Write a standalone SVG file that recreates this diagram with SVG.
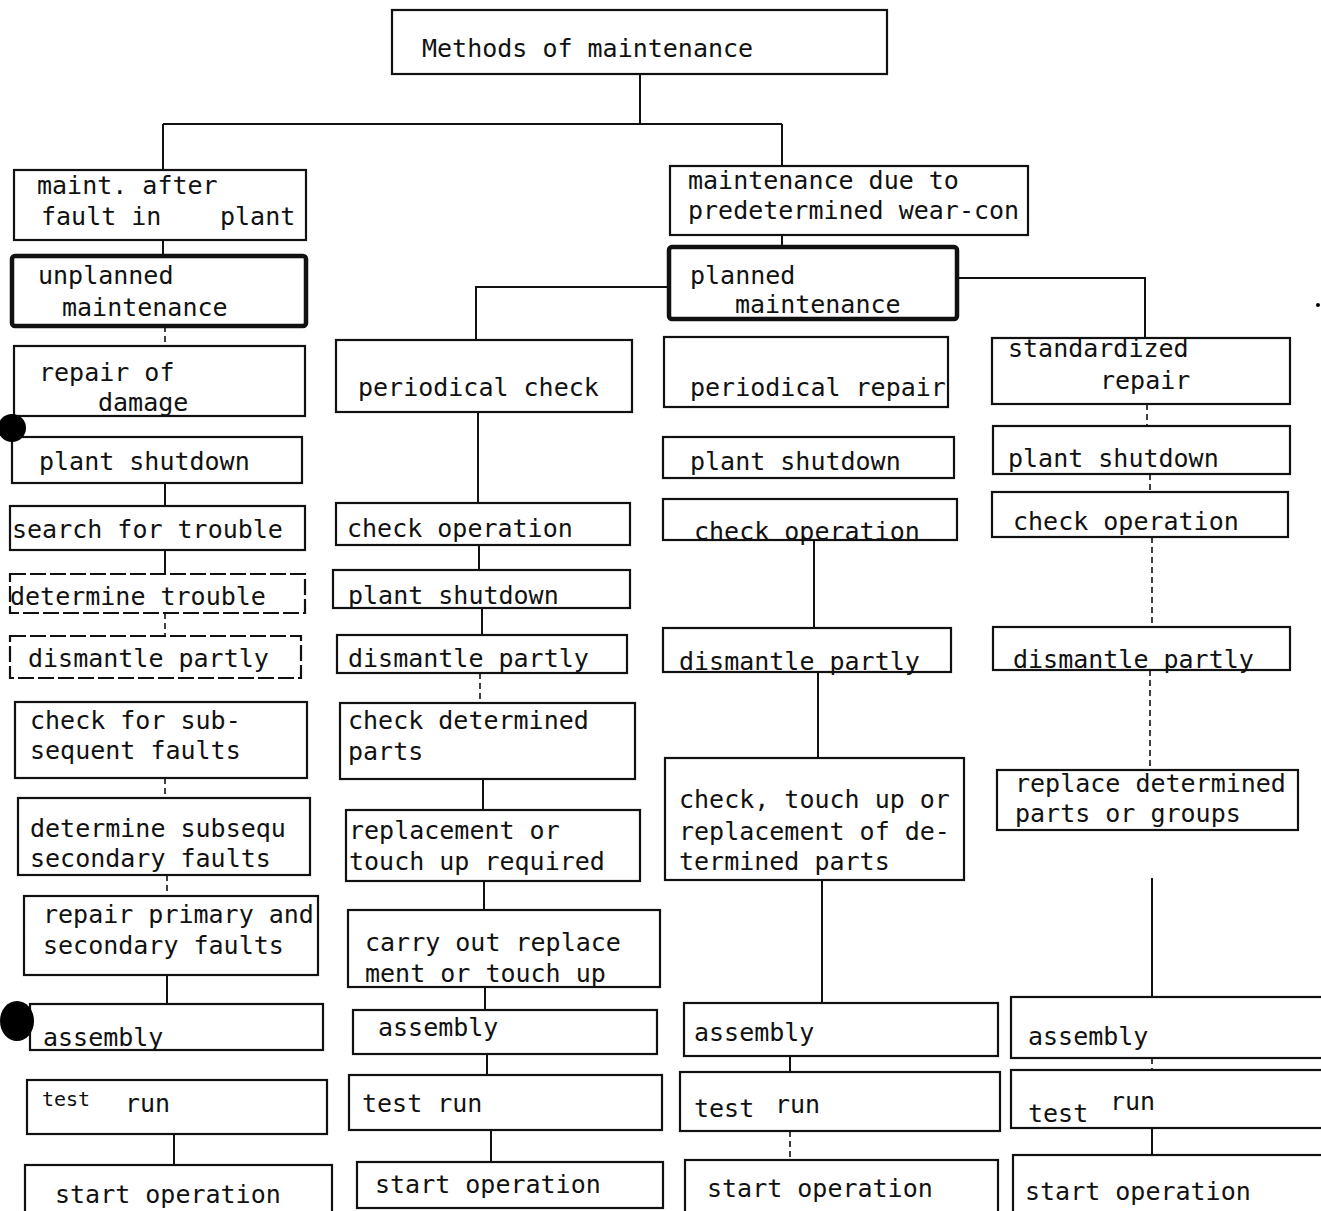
<svg xmlns="http://www.w3.org/2000/svg" width="1321" height="1211" viewBox="0 0 1321 1211">
<style>
.b{fill:#fff;stroke:#111;stroke-width:2.2}
.bd{fill:#fff;stroke:#111;stroke-width:2.2;stroke-dasharray:16 4}
.k{fill:#fff;stroke:#111;stroke-width:4.5}
.c{fill:none;stroke:#111;stroke-width:2}
.cd{fill:none;stroke:#111;stroke-width:1.6;stroke-dasharray:6 4}
text{font-family:"DejaVu Sans Mono","Liberation Mono",monospace;font-size:25px;fill:#111}
</style>
<rect width="1321" height="1211" fill="#fff"/>
<g id="connectors">
<path class="c" d="M640 74V124M163 124H782M163 124V170M782 124V166"/>
<path class="c" d="M163 240V255"/>
<path class="cd" d="M165 326V346"/>
<path class="c" d="M165 483V506M165 550V574"/>
<path class="cd" d="M165 613V636"/>
<path class="cd" d="M165 778V798M167 875V896"/>
<path class="c" d="M167 975V1005M174 1134V1165"/>
<path class="c" d="M668 287H476V340M478 412V503M479 545V570M482 608V635"/>
<path class="cd" d="M480 673V703"/>
<path class="c" d="M483 779V810M484 881V912M485 987V1010M487 1054V1075M491 1130V1162"/>
<path class="c" d="M782 235V247M957 278H1145V338"/>
<path class="c" d="M814 540V628M818 672V758M822 880V1003M790 1056V1072"/>
<path class="cd" d="M790 1131V1160"/>
<path class="cd" d="M1147 404V426M1150 474V492M1152 537V627M1150 670V770"/>
<path class="c" d="M1152 878V997M1152 1128V1155"/>
<path class="cd" d="M1152 1058V1070"/>
</g>
<g id="n_methods"><rect class="b" x="392" y="10" width="495" height="64"/><text x="422" y="57">Methods of maintenance</text></g>
<g id="n_fault"><rect class="b" x="14" y="170" width="292" height="70"/><text x="37" y="194">maint. after</text><text x="41" y="225">fault in</text><text x="220" y="225">plant</text></g>
<g id="n_unplanned"><rect class="k" x="12" y="256" width="294" height="70" rx="3"/><text x="38" y="284">unplanned</text><text x="62" y="316">maintenance</text></g>
<g id="n_repair_damage"><rect class="b" x="14" y="346" width="291" height="70"/><text x="39" y="381">repair of</text><text x="98" y="411">damage</text></g>
<g id="n_c1_shutdown"><rect class="b" x="12" y="437" width="290" height="46"/><text x="39" y="470">plant shutdown</text></g>
<g id="n_search"><rect class="b" x="10" y="506" width="295" height="44"/><text x="12" y="538">search for trouble</text></g>
<g id="n_determine"><rect class="bd" x="10" y="574" width="295" height="39"/><text x="10" y="605">determine trouble</text></g>
<g id="n_c1_dismantle"><rect class="bd" x="10" y="636" width="291" height="42"/><text x="28" y="667">dismantle partly</text></g>
<g id="n_check_sub"><rect class="b" x="15" y="702" width="292" height="76"/><text x="30" y="729">check for sub-</text><text x="30" y="759">sequent faults</text></g>
<g id="n_det_sec"><rect class="b" x="18" y="798" width="292" height="77"/><text x="30" y="837">determine  subsequ</text><text x="30" y="867">secondary faults</text></g>
<g id="n_repair_prim"><rect class="b" x="24" y="896" width="294" height="79"/><text x="43" y="923">repair primary and</text><text x="43" y="954">secondary faults</text></g>
<g id="n_c1_assembly"><rect class="b" x="30" y="1004" width="293" height="46"/><text x="43" y="1046">assembly</text></g>
<g id="n_c1_test"><rect class="b" x="27" y="1080" width="300" height="54"/><text x="42" y="1106" style="font-size:20px">test</text><text x="125" y="1112">run</text></g>
<g id="n_c1_start"><rect class="b" x="25" y="1165" width="307" height="52"/><text x="55" y="1203">start operation</text></g>
<g id="n_due"><rect class="b" x="670" y="166" width="358" height="69"/><text x="688" y="189">maintenance due to</text><text x="688" y="219">predetermined wear-con</text></g>
<g id="n_planned"><rect class="k" x="669" y="247" width="288" height="72" rx="3"/><text x="690" y="284">planned</text><text x="735" y="313">maintenance</text></g>
<g id="n_per_check"><rect class="b" x="336" y="340" width="296" height="72"/><text x="358" y="396">periodical check</text></g>
<g id="n_c2_checkop"><rect class="b" x="336" y="503" width="294" height="42"/><text x="347" y="537">check operation</text></g>
<g id="n_c2_shutdown"><rect class="b" x="333" y="570" width="297" height="38"/><text x="348" y="604">plant shutdown</text></g>
<g id="n_c2_dismantle"><rect class="b" x="337" y="635" width="290" height="38"/><text x="348" y="667">dismantle partly</text></g>
<g id="n_check_det"><rect class="b" x="340" y="703" width="295" height="76"/><text x="348" y="729">check determined</text><text x="348" y="760">parts</text></g>
<g id="n_repl_req"><rect class="b" x="346" y="810" width="294" height="71"/><text x="349" y="839">replacement or</text><text x="349" y="870">touch up required</text></g>
<g id="n_carry"><rect class="b" x="348" y="910" width="312" height="77"/><text x="365" y="951">carry out replace</text><text x="365" y="982">ment or touch up</text></g>
<g id="n_c2_assembly"><rect class="b" x="353" y="1010" width="304" height="44"/><text x="378" y="1036">assembly</text></g>
<g id="n_c2_test"><rect class="b" x="349" y="1075" width="313" height="55"/><text x="362" y="1112">test run</text></g>
<g id="n_c2_start"><rect class="b" x="357" y="1162" width="306" height="46"/><text x="375" y="1193">start operation</text></g>
<g id="n_per_repair"><rect class="b" x="664" y="337" width="284" height="70"/><text x="690" y="396">periodical repair</text></g>
<g id="n_c3_shutdown"><rect class="b" x="663" y="437" width="291" height="41"/><text x="690" y="470">plant shutdown</text></g>
<g id="n_c3_checkop"><rect class="b" x="663" y="499" width="294" height="41"/><text x="694" y="540">check operation</text></g>
<g id="n_c3_dismantle"><rect class="b" x="663" y="628" width="288" height="44"/><text x="679" y="670">dismantle partly</text></g>
<g id="n_check_touch"><rect class="b" x="665" y="758" width="299" height="122"/><text x="679" y="808">check, touch up or</text><text x="679" y="840">replacement of de-</text><text x="679" y="870">termined parts</text></g>
<g id="n_c3_assembly"><rect class="b" x="684" y="1003" width="314" height="53"/><text x="694" y="1041">assembly</text></g>
<g id="n_c3_test"><rect class="b" x="680" y="1072" width="320" height="59"/><text x="694" y="1117">test</text><text x="775" y="1113">run</text></g>
<g id="n_c3_start"><rect class="b" x="685" y="1160" width="313" height="56"/><text x="707" y="1197">start operation</text></g>
<g id="n_std_repair"><rect class="b" x="992" y="338" width="298" height="66"/><text x="1008" y="357">standardized</text><text x="1100" y="389">repair</text></g>
<g id="n_c4_shutdown"><rect class="b" x="993" y="426" width="297" height="48"/><text x="1008" y="467">plant shutdown</text></g>
<g id="n_c4_checkop"><rect class="b" x="992" y="492" width="296" height="45"/><text x="1013" y="530">check operation</text></g>
<g id="n_c4_dismantle"><rect class="b" x="993" y="627" width="297" height="43"/><text x="1013" y="668">dismantle partly</text></g>
<g id="n_replace_det"><rect class="b" x="997" y="770" width="301" height="60"/><text x="1015" y="792">replace determined</text><text x="1015" y="822">parts or groups</text></g>
<g id="n_c4_assembly"><rect class="b" x="1011" y="997" width="312" height="61"/><text x="1028" y="1045">assembly</text></g>
<g id="n_c4_test"><rect class="b" x="1011" y="1070" width="312" height="58"/><text x="1028" y="1122">test</text><text x="1110" y="1110">run</text></g>
<g id="n_c4_start"><rect class="b" x="1013" y="1155" width="310" height="60"/><text x="1025" y="1200">start operation</text></g>
<g id="marks"><circle cx="12" cy="428" r="14" fill="#000"/><ellipse cx="17" cy="1021" rx="17" ry="20" fill="#000"/><circle cx="1318" cy="305" r="2" fill="#000"/></g>
</svg>
